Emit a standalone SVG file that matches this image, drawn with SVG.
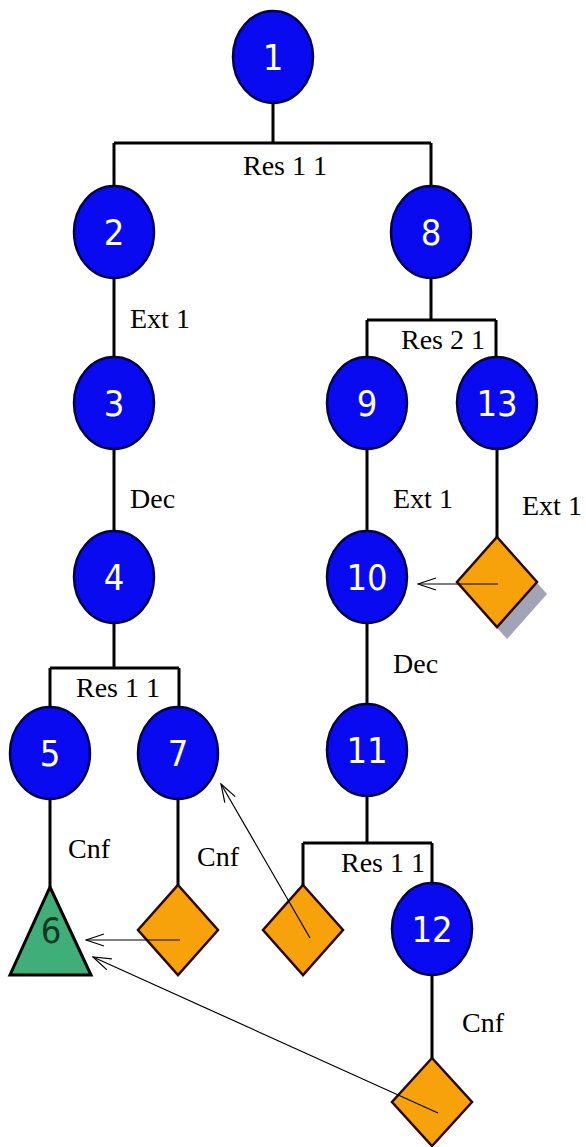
<svg xmlns="http://www.w3.org/2000/svg" width="586" height="1147" viewBox="0 0 586 1147">
<defs>
<style>
.n{fill:#0a0af0;stroke:#00004a;stroke-width:2.5}
.d{fill:#f7a20a;stroke:#2a0800;stroke-width:2.5}
.t{fill:#ffffff;font-family:"DejaVu Sans Condensed","Liberation Sans",Arial,sans-serif;font-size:36px;text-anchor:middle}
.l{fill:#000;font-family:"Liberation Serif","Times New Roman",serif;font-size:28px}
.e{stroke:#000;stroke-width:3;fill:none}
.a{stroke:#000;stroke-width:1.2;fill:none;marker-end:url(#ah)}
</style>
<marker id="ah" viewBox="0 0 20 14" refX="19" refY="7" markerWidth="20" markerHeight="14" markerUnits="userSpaceOnUse" orient="auto">
<path d="M1,1 L19,7 L1,13" fill="none" stroke="#000" stroke-width="1.2"/>
</marker>
</defs>
<rect width="586" height="1147" fill="#ffffff"/>
<g id="n1"><ellipse class="n" cx="273" cy="57" rx="40" ry="46"/><text class="t" x="273" y="70">1</text></g>
<g id="n2"><ellipse class="n" cx="114" cy="232" rx="40" ry="46"/><text class="t" x="114" y="245">2</text></g>
<g id="n8"><ellipse class="n" cx="431" cy="232" rx="40" ry="46"/><text class="t" x="431" y="245">8</text></g>
<g id="n3"><ellipse class="n" cx="114" cy="403" rx="40" ry="46"/><text class="t" x="114" y="416">3</text></g>
<g id="n4"><ellipse class="n" cx="114" cy="577" rx="40" ry="46"/><text class="t" x="114" y="590">4</text></g>
<g id="n5"><ellipse class="n" cx="50" cy="753" rx="40" ry="46"/><text class="t" x="50" y="766">5</text></g>
<g id="n7"><ellipse class="n" cx="178" cy="753" rx="40" ry="46"/><text class="t" x="178" y="766">7</text></g>
<g id="n9"><ellipse class="n" cx="367" cy="403" rx="40" ry="46"/><text class="t" x="367" y="416">9</text></g>
<g id="n13"><ellipse class="n" cx="497" cy="403" rx="40" ry="46"/><text class="t" x="497" y="416">13</text></g>
<g id="n10"><ellipse class="n" cx="367" cy="577" rx="40" ry="46"/><text class="t" x="367" y="590">10</text></g>
<g id="n11"><ellipse class="n" cx="367" cy="750" rx="40" ry="46"/><text class="t" x="367" y="763">11</text></g>
<g id="n12"><ellipse class="n" cx="432" cy="929" rx="40" ry="46"/><text class="t" x="432" y="942">12</text></g>
<g id="n6"><path d="M50,887 L91,975 L10,975 Z" fill="#3fae78" stroke="#000" stroke-width="3" stroke-linejoin="miter"/><text class="t" x="51" y="943" style="fill:#0f3a22">6</text></g>
<g id="d7"><path class="d" d="M178,885 L218,930 L178,975 L138,930 Z"/></g>
<g id="d13"><path d="M507,549 L547,594 L507,639 L467,594 Z" fill="#8c8ca4" opacity="0.8"/><path class="d" d="M497,537 L537,582 L497,627 L457,582 Z"/></g>
<g id="d11"><path class="d" d="M303,885 L343,930 L303,975 L263,930 Z"/></g>
<g id="d12"><path class="d" d="M432,1058 L472,1102 L432,1146 L392,1102 Z"/></g>
<g id="connectors">
<path class="e" d="M273,104 V143 M114,143 H431 M114,143 V187 M431,143 V187"/>
<path class="e" d="M114,279 V357 M114,450 V531 M114,624 V668 M50,668 H179 M50,668 V707 M179,668 V707"/>
<path class="e" d="M50,800 V887 M178,800 V885"/>
<path class="e" d="M431,279 V320 M367,320 H496 M367,320 V357 M496,320 V357"/>
<path class="e" d="M367,450 V531 M497,450 V537 M367,624 V704 M367,797 V843 M303,843 H432 M303,843 V885 M432,843 V883 M432,976 V1058"/>
<path class="a" d="M180,940 H86"/>
<path class="a" d="M498,584 H418"/>
<path class="a" d="M310,938 L221,784"/>
<path class="a" d="M438,1113 L93,957"/>
<text class="l" x="243" y="175">Res 1 1</text>
<text class="l" x="130" y="328">Ext 1</text>
<text class="l" x="130" y="508">Dec</text>
<text class="l" x="76" y="697">Res 1 1</text>
<text class="l" x="68" y="858">Cnf</text>
<text class="l" x="197" y="866">Cnf</text>
<text class="l" x="401" y="349">Res 2 1</text>
<text class="l" x="393" y="508">Ext 1</text>
<text class="l" x="522" y="515">Ext 1</text>
<text class="l" x="393" y="673">Dec</text>
<text class="l" x="341" y="872">Res 1 1</text>
<text class="l" x="462" y="1032">Cnf</text>
</g>
</svg>
